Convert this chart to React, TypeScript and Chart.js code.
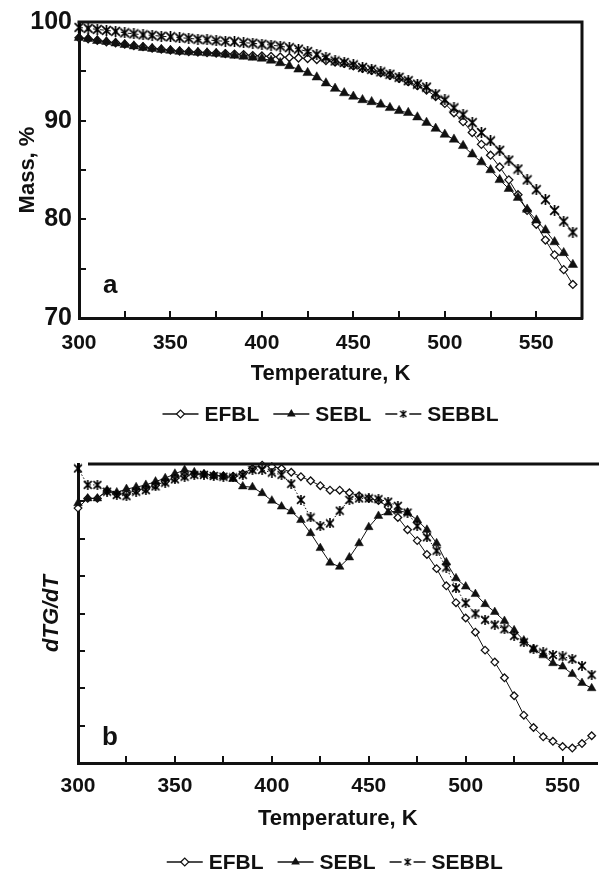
import React, { useEffect, useRef } from 'react';
import { Chart, registerables } from 'chart.js';

Chart.register(...registerables);

const FONT = '"Liberation Sans", Arial, Helvetica, sans-serif';
const INK = '#111111';

const seriesLabels = ['EFBL', 'SEBL', 'SEBBL'];

// ---------- panel a : Mass, % ----------
const massTemps = [300, 305, 310, 315, 320, 325, 330, 335, 340, 345, 350, 355, 360, 365, 370, 375, 380, 385, 390, 395, 400, 405, 410, 415, 420, 425, 430, 435, 440, 445, 450, 455, 460, 465, 470, 475, 480, 485, 490, 495, 500, 505, 510, 515, 520, 525, 530, 535, 540, 545, 550, 555, 560, 565, 570];
const massEFBL = [98.4, 98.3, 98.15, 98.0, 97.9, 97.75, 97.6, 97.5, 97.35, 97.25, 97.15, 97.05, 97.0, 96.95, 96.9, 96.85, 96.8, 96.75, 96.7, 96.6, 96.55, 96.5, 96.45, 96.4, 96.35, 96.3, 96.2, 96.1, 95.95, 95.8, 95.55, 95.3, 95.1, 94.85, 94.6, 94.3, 93.95, 93.55, 93.1, 92.45, 91.75, 90.8, 89.9, 88.8, 87.6, 86.5, 85.3, 84.0, 82.5, 80.9, 79.5, 77.9, 76.4, 74.9, 73.4];
const massSEBL = [98.4, 98.3, 98.1, 98.0, 97.85, 97.7, 97.55, 97.4, 97.3, 97.2, 97.1, 97.0, 96.95, 96.9, 96.85, 96.8, 96.7, 96.6, 96.5, 96.4, 96.3, 96.1, 95.85, 95.55, 95.2, 94.85, 94.4, 93.8, 93.25, 92.8, 92.45, 92.1, 91.9, 91.65, 91.3, 91.0, 90.8, 90.35, 89.8, 89.2, 88.6, 88.1, 87.45, 86.6, 85.8, 85.0, 84.0, 83.1, 82.2, 81.0, 79.9, 78.9, 77.7, 76.6, 75.4];
const massSEBBL = [99.45, 99.35, 99.25, 99.15, 99.05, 98.9, 98.8, 98.7, 98.65, 98.55, 98.5, 98.4, 98.35, 98.25, 98.2, 98.1, 98.05, 98.0, 97.9, 97.85, 97.75, 97.65, 97.55, 97.4, 97.25, 97.0, 96.7, 96.4, 96.05, 95.9, 95.65, 95.4, 95.2, 94.95, 94.7, 94.4, 94.05, 93.7, 93.4, 92.7, 92.1, 91.3, 90.6, 89.8, 88.8, 87.95, 87.0, 86.0, 85.1, 84.0, 83.0, 82.0, 80.9, 79.8, 78.7];

// ---------- panel b : dTG/dT (arbitrary units) ----------
const dtgTemps = [300, 305, 310, 315, 320, 325, 330, 335, 340, 345, 350, 355, 360, 365, 370, 375, 380, 385, 390, 395, 400, 405, 410, 415, 420, 425, 430, 435, 440, 445, 450, 455, 460, 465, 470, 475, 480, 485, 490, 495, 500, 505, 510, 515, 520, 525, 530, 535, 540, 545, 550, 555, 560, 565];
const dtgEFBL = [-1.18, -0.92, -0.92, -0.72, -0.8, -0.8, -0.7, -0.66, -0.57, -0.47, -0.38, -0.31, -0.27, -0.27, -0.3, -0.32, -0.33, -0.26, -0.12, -0.03, -0.07, -0.12, -0.22, -0.34, -0.45, -0.58, -0.7, -0.7, -0.77, -0.85, -0.92, -0.98, -1.15, -1.43, -1.76, -2.05, -2.42, -2.8, -3.26, -3.71, -4.12, -4.5, -4.98, -5.3, -5.72, -6.2, -6.72, -7.05, -7.3, -7.42, -7.56, -7.6, -7.48, -7.27];
const dtgSEBL = [-1.05, -0.92, -0.92, -0.7, -0.76, -0.67, -0.62, -0.56, -0.47, -0.38, -0.26, -0.16, -0.22, -0.27, -0.31, -0.33, -0.4, -0.6, -0.62, -0.78, -0.98, -1.14, -1.27, -1.5, -1.85, -2.25, -2.64, -2.75, -2.5, -2.12, -1.69, -1.39, -1.3, -1.25, -1.3, -1.5, -1.76, -2.12, -2.63, -3.06, -3.28, -3.48, -3.75, -3.96, -4.2, -4.45, -4.72, -4.95, -5.12, -5.33, -5.42, -5.62, -5.86, -6.0];
const dtgSEBBL = [-0.12, -0.56, -0.56, -0.74, -0.83, -0.86, -0.74, -0.7, -0.6, -0.5, -0.41, -0.34, -0.29, -0.29, -0.32, -0.34, -0.36, -0.29, -0.16, -0.16, -0.23, -0.29, -0.53, -0.96, -1.43, -1.66, -1.59, -1.25, -0.96, -0.92, -0.92, -0.94, -1.01, -1.12, -1.3, -1.66, -1.96, -2.32, -2.77, -3.32, -3.72, -4.0, -4.17, -4.3, -4.42, -4.6, -4.77, -4.95, -5.04, -5.11, -5.15, -5.22, -5.4, -5.64];

const tempTickLabels = [300, 350, 400, 450, 500, 550];
const massTickLabels = [70, 80, 90, 100];

function makeStar(size: number, lw: number): HTMLCanvasElement {
  const c = document.createElement('canvas');
  c.width = size;
  c.height = size;
  const g = c.getContext('2d')!;
  g.strokeStyle = '#000';
  g.lineWidth = lw;
  const m = lw / 2 + 0.3;
  g.beginPath();
  g.moveTo(m, m); g.lineTo(size - m, size - m);
  g.moveTo(size - m, m); g.lineTo(m, size - m);
  g.moveTo(size / 2, 0); g.lineTo(size / 2, size);
  g.stroke();
  return c;
}

function drawLegendMarker(ctx: CanvasRenderingContext2D, style: any, cx: number, cy: number, smallStar: HTMLCanvasElement) {
  ctx.save();
  ctx.setLineDash([]);
  if (style === 'rectRot') {
    const r = 4;
    ctx.beginPath();
    ctx.moveTo(cx - r, cy); ctx.lineTo(cx, cy - r); ctx.lineTo(cx + r, cy); ctx.lineTo(cx, cy + r); ctx.closePath();
    ctx.fillStyle = '#fff'; ctx.fill();
    ctx.lineWidth = 1.2; ctx.strokeStyle = INK; ctx.stroke();
  } else if (style === 'triangle') {
    const r = 5;
    ctx.beginPath();
    ctx.moveTo(cx, cy - r); ctx.lineTo(cx + r * 0.866, cy + r * 0.5); ctx.lineTo(cx - r * 0.866, cy + r * 0.5); ctx.closePath();
    ctx.fillStyle = INK; ctx.fill();
  } else {
    ctx.fillStyle = '#fff';
    ctx.fillRect(cx - 4, cy - 4, 8, 8);
    ctx.drawImage(smallStar, cx - smallStar.width / 2, cy - smallStar.height / 2);
  }
  ctx.restore();
}

const decorPlugin = {
  id: 'decor',
  afterDraw(chart: any, _args: any, opts: any) {
    const { ctx, chartArea } = chart;
    const { left, right, top, bottom } = chartArea;
    const xs = chart.scales.x;
    const ys = chart.scales.y;
    ctx.save();
    ctx.strokeStyle = INK;
    ctx.lineWidth = 2;
    ctx.setLineDash([]);
    ctx.beginPath();
    xs.ticks.forEach((t: any) => {
      if (t.value % 25 !== 0) return;
      const px = Math.round(xs.getPixelForValue(t.value));
      if (px - left < 3 || right - px < 3) return;
      ctx.moveTo(px, bottom); ctx.lineTo(px, bottom - opts.tickLen);
    });
    ys.ticks.forEach((t: any) => {
      const py = Math.round(ys.getPixelForValue(t.value));
      if (py - top < 3 || bottom - py < 3) return;
      ctx.moveTo(left, py); ctx.lineTo(left + opts.tickLen, py);
    });
    ctx.stroke();

    ctx.lineWidth = 3;
    ctx.beginPath();
    if (opts.frameTop) { ctx.moveTo(left + opts.topInset, top); ctx.lineTo(right + 1.5, top); }
    if (opts.frameRight) { ctx.moveTo(right, top - 1.5); ctx.lineTo(right, bottom + 1.5); }
    ctx.stroke();

    ctx.fillStyle = INK;
    ctx.font = `bold 26px ${FONT}`;
    ctx.textAlign = 'left';
    ctx.textBaseline = 'alphabetic';
    ctx.fillText(opts.letter, left + opts.letterDx, bottom - opts.letterDy);

    // legend
    const ds = chart.data.datasets;
    ctx.font = `bold 21px ${FONT}`;
    const L = 36, G = 6, IG = 14;
    const widths = ds.map((d: any) => ctx.measureText(d.label).width);
    const total = widths.reduce((a: number, w: number) => a + L + G + w, 0) + IG * (ds.length - 1);
    let x = (left + right) / 2 + opts.legendDx - total / 2;
    const y = opts.legendY;
    ds.forEach((d: any, i: number) => {
      ctx.lineWidth = 1.5;
      ctx.strokeStyle = INK;
      ctx.beginPath();
      if (d.borderDash && d.borderDash.length) {
        ctx.moveTo(x, y); ctx.lineTo(x + 12, y);
        ctx.moveTo(x + L - 12, y); ctx.lineTo(x + L, y);
      } else {
        ctx.moveTo(x, y); ctx.lineTo(x + L, y);
      }
      ctx.stroke();
      drawLegendMarker(ctx, d.pointStyle, x + L / 2, y, opts.smallStar);
      ctx.fillStyle = INK;
      ctx.textBaseline = 'middle';
      ctx.fillText(d.label, x + L + G, y + 1);
      x += L + G + widths[i] + IG;
    });
    ctx.restore();
  },
};

function pts(xs: number[], ys: number[]) {
  return xs.map((t, i) => ({ x: t, y: ys[i] }));
}

export default function App() {
  const topRef = useRef<HTMLCanvasElement>(null);
  const botRef = useRef<HTMLCanvasElement>(null);

  useEffect(() => {
    const star = makeStar(11, 1.7);
    const starB = makeStar(10, 1.6);
    const smallStar = makeStar(8, 1.3);
    const tempCb = (v: any) => (tempTickLabels.includes(Number(v)) ? String(v) : '');

    const top = new Chart(topRef.current!, {
      type: 'line',
      data: {
        datasets: [
          { label: seriesLabels[0], data: pts(massTemps, massEFBL), borderColor: INK, borderWidth: 1, pointStyle: 'rectRot', pointRadius: 4, pointBackgroundColor: '#fff', pointBorderColor: INK, pointBorderWidth: 1.3, order: 3, clip: false } as any,
          { label: seriesLabels[1], data: pts(massTemps, massSEBL), borderColor: INK, borderWidth: 1, pointStyle: 'triangle', pointRadius: 5.5, pointBackgroundColor: INK, pointBorderColor: INK, pointBorderWidth: 0.5, order: 2, clip: false } as any,
          { label: seriesLabels[2], data: pts(massTemps, massSEBBL), borderColor: INK, borderWidth: 1, borderDash: [4, 3], pointStyle: star, pointRadius: 5, order: 1, clip: false } as any,
        ],
      },
      options: {
        animation: false,
        responsive: false,
        devicePixelRatio: 1,
        events: [],
        layout: { padding: { left: 0, top: 15, right: 21, bottom: 49 } },
        elements: { line: { tension: 0 } },
        plugins: {
          legend: { display: false },
          tooltip: { enabled: false },
          decor: { tickLen: 7, frameTop: true, frameRight: true, topInset: -1.5, letter: 'a', letterDx: 24, letterDy: 25, legendY: 414, legendDx: 0, smallStar },
        } as any,
        scales: {
          x: {
            type: 'linear', min: 300, max: 575,
            grid: { display: false, drawTicks: false },
            border: { display: true, width: 3, color: INK },
            ticks: { stepSize: 25, callback: tempCb, autoSkip: false, maxRotation: 0, padding: 13, color: INK, font: { family: FONT, size: 21, weight: 'bold' } },
            title: { display: true, text: 'Temperature, K', color: INK, font: { family: FONT, size: 22, weight: 'bold' }, padding: { top: 0, bottom: 1 } },
            afterFit: (s: any) => { s.height = 70; },
          },
          y: {
            type: 'linear', min: 70, max: 100,
            grid: { display: false, drawTicks: false },
            border: { display: true, width: 3, color: INK },
            ticks: { stepSize: 5, callback: (v: any) => (massTickLabels.includes(Number(v)) ? String(v) : ''), padding: 7, color: INK, font: { family: FONT, size: 25, weight: 'bold' } },
            title: { display: true, text: 'Mass, %', color: INK, font: { family: FONT, size: 22, weight: 'bold' }, padding: { top: 15, bottom: 0 } },
            afterFit: (s: any) => { s.width = 79; },
          },
        },
      } as any,
      plugins: [decorPlugin],
    });

    const bot = new Chart(botRef.current!, {
      type: 'line',
      data: {
        datasets: [
          { label: seriesLabels[0], data: pts(dtgTemps, dtgEFBL), borderColor: INK, borderWidth: 1, pointStyle: 'rectRot', pointRadius: 3.8, pointBackgroundColor: '#fff', pointBorderColor: INK, pointBorderWidth: 1.3, order: 3, clip: false } as any,
          { label: seriesLabels[1], data: pts(dtgTemps, dtgSEBL), borderColor: INK, borderWidth: 1, pointStyle: 'triangle', pointRadius: 5, pointBackgroundColor: INK, pointBorderColor: INK, pointBorderWidth: 0.5, order: 2, clip: false } as any,
          { label: seriesLabels[2], data: pts(dtgTemps, dtgSEBBL), borderColor: INK, borderWidth: 1, borderDash: [1.5, 2], pointStyle: starB, pointRadius: 4.5, order: 1, clip: false } as any,
        ],
      },
      options: {
        animation: false,
        responsive: false,
        devicePixelRatio: 1,
        events: [],
        layout: { padding: { left: 0, top: 27, right: 5, bottom: 40 } },
        elements: { line: { tension: 0 } },
        plugins: {
          legend: { display: false },
          tooltip: { enabled: false },
          decor: { tickLen: 7, frameTop: true, frameRight: false, topInset: 10, letter: 'b', letterDx: 24, letterDy: 18, legendY: 425, legendDx: -3, smallStar },
        } as any,
        scales: {
          x: {
            type: 'linear', min: 300, max: 568,
            grid: { display: false, drawTicks: false },
            border: { display: true, width: 3, color: INK },
            ticks: { stepSize: 25, includeBounds: false, callback: tempCb, autoSkip: false, maxRotation: 0, padding: 11, color: INK, font: { family: FONT, size: 21, weight: 'bold' } },
            title: { display: true, text: 'Temperature, K', color: INK, font: { family: FONT, size: 22, weight: 'bold' }, padding: { top: 0, bottom: 1 } },
            afterFit: (s: any) => { s.height = 70; },
          },
          y: {
            type: 'linear', min: -8, max: 0,
            grid: { display: false, drawTicks: false },
            border: { display: true, width: 3, color: INK },
            ticks: { stepSize: 1, display: false },
            title: { display: true, text: 'dTG/dT', color: INK, font: { family: FONT, size: 22, weight: 'bold', style: 'italic' }, padding: { top: 39, bottom: 0 } },
            afterFit: (s: any) => { s.width = 78; },
          },
        },
      } as any,
      plugins: [decorPlugin],
    });

    return () => {
      top.destroy();
      bot.destroy();
    };
  }, []);

  return (
    <div style={{ position: 'absolute', left: 0, top: 0, width: 603, height: 873, background: '#fff' }}>
      <canvas ref={topRef} width={603} height={437} style={{ position: 'absolute', left: 0, top: 0, width: 603, height: 437 }} />
      <canvas ref={botRef} width={603} height={436} style={{ position: 'absolute', left: 0, top: 437, width: 603, height: 436 }} />
    </div>
  );
}
